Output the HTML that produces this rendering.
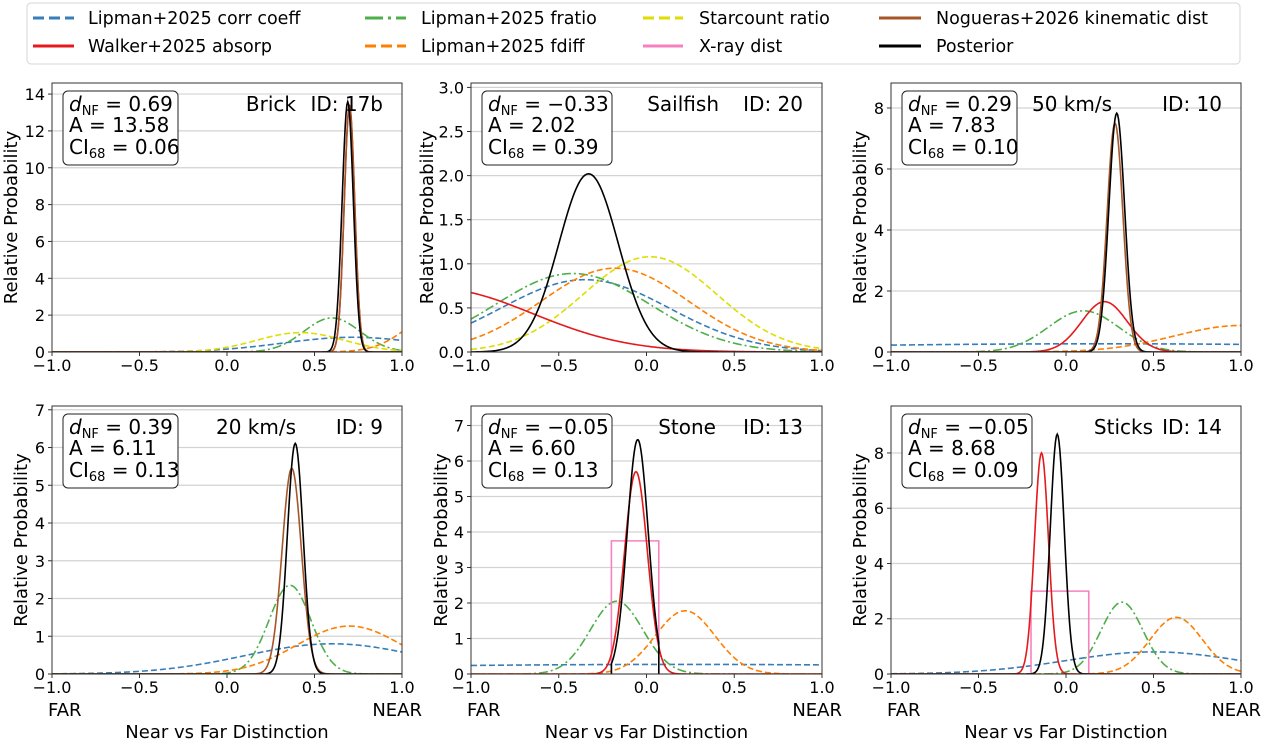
<!DOCTYPE html>
<html><head><meta charset="utf-8">
<style>
html,body{margin:0;padding:0;background:#fff;}
svg{display:block;font-family:"DejaVu Sans","Liberation Sans",sans-serif;}
</style></head>
<body>
<svg id="fig" width="1265" height="745" viewBox="0 0 1265 745" xmlns="http://www.w3.org/2000/svg">
<g id="legend">
  <rect x="27" y="3" width="1213" height="61" rx="4" fill="#fff" stroke="#d4d4d4" stroke-width="1"/>
  <g><line x1="33" y1="18" x2="74" y2="18" stroke="#377eb8" stroke-width="3" stroke-dasharray="11,5"/><text x="88" y="24" font-size="17.5">Lipman+2025 corr coeff</text></g>
  <g><line x1="33" y1="46" x2="74" y2="46" stroke="#e41a1c" stroke-width="3"/><text x="88" y="52" font-size="17.5">Walker+2025 absorp</text></g>
  <g><line x1="365" y1="18" x2="406" y2="18" stroke="#4daf4a" stroke-width="3" stroke-dasharray="18,5,3,5"/><text x="421" y="24" font-size="17.5">Lipman+2025 fratio</text></g>
  <g><line x1="365" y1="46" x2="406" y2="46" stroke="#ff7f00" stroke-width="3" stroke-dasharray="11,5"/><text x="421" y="52" font-size="17.5">Lipman+2025 fdiff</text></g>
  <g><line x1="643" y1="18" x2="683" y2="18" stroke="#dede00" stroke-width="3" stroke-dasharray="11,5"/><text x="699" y="24" font-size="17.5">Starcount ratio</text></g>
  <g><line x1="643" y1="46" x2="683" y2="46" stroke="#f781bf" stroke-width="3"/><text x="699" y="52" font-size="17.5">X-ray dist</text></g>
  <g><line x1="879" y1="18" x2="921" y2="18" stroke="#a65628" stroke-width="3"/><text x="936" y="24" font-size="17.5">Nogueras+2026 kinematic dist</text></g>
  <g><line x1="879" y1="46" x2="921" y2="46" stroke="#000" stroke-width="3"/><text x="936" y="52" font-size="17.5">Posterior</text></g>
</g>
</svg>
<script>
// ---- data (per panel: Brick, Sailfish, 50 km/s, 20 km/s, Stone, Sticks) ----
const panelNames = ["Brick","Sailfish","50 km/s","20 km/s","Stone","Sticks"];
const panelIds = ["ID: 17b","ID: 20","ID: 10","ID: 9","ID: 13","ID: 14"];
const dnfText = ["0.69","\u22120.33","0.29","0.39","\u22120.05","\u22120.05"];
const ampText = ["13.58","2.02","7.83","6.11","6.60","8.68"];
const ciText = ["0.06","0.39","0.10","0.13","0.13","0.09"];
const yMax = [14.6,3.05,8.82,7.1,7.55,9.7];
const yTickStep = [2,0.5,2,1,1,2];
const yTickTop = [14,3,8,7,7,8];
// gaussian params [peak, mean, sigma]; null = absent
const corrPeak = [0.8,0.82,0.27,0.8,0.27,0.8];
const corrMean = [0.72,-0.35,0.2,0.6,0.2,0.5];
const corrSigma = [0.4,0.48,2.0,0.5,2.5,0.5];
const fratioPeak = [1.85,0.89,1.35,2.35,2.05,2.6];
const fratioMean = [0.6,-0.42,0.1,0.36,-0.17,0.32];
const fratioSigma = [0.16,0.44,0.2,0.12,0.15,0.12];
const starPeak = [1.05,1.08,null,null,null,null];
const starMean = [0.42,0.02,0,0,0,0];
const starSigma = [0.25,0.38,1,1,1,1];
const fdiffPeak = [2.4,0.95,0.87,1.27,1.78,2.05];
const fdiffMean = [1.25,-0.18,1.0,0.7,0.22,0.63];
const fdiffSigma = [0.2,0.42,0.38,0.3,0.17,0.15];
const absorpPeak = [13.4,0.72,1.65,null,5.7,8.0];
const absorpMean = [0.70,-1.2,0.22,0,-0.06,-0.14];
const absorpSigma = [0.03,0.55,0.13,1,0.065,0.04];
const kinPeak = [13.3,null,7.5,5.45,null,null];
const kinMean = [0.70,0,0.28,0.37,0,0];
const kinSigma = [0.03,1,0.045,0.055,1,1];
const xrayLo = [null,null,null,null,-0.2,-0.2];
const xrayHi = [null,null,null,null,0.07,0.13];
const xrayHeight = [null,null,null,null,3.75,3.0];
const postPeak = [13.58,2.02,7.83,6.11,6.6,8.68];
const postMean = [0.69,-0.33,0.29,0.39,-0.05,-0.05];
const postSigma = [0.032,0.17,0.045,0.045,0.06,0.04];
const postLo = [-1,-1,-1,-1,-0.2,-1];
const postHi = [1,1,1,1,0.07,1];
const xTicks = [-1.0,-0.5,0.0,0.5,1.0];
const xTickLabels = ["\u22121.0","\u22120.5","0.0","0.5","1.0"];

const NS = "http://www.w3.org/2000/svg";
const svg = document.getElementById('fig');
function mk(tag, attrs, parent){const e=document.createElementNS(NS,tag);for(const k in attrs)e.setAttribute(k,attrs[k]);(parent||svg).appendChild(e);return e;}

const colL=[52,471,891], colR=[402,822,1241];
const rowT=[83,406], rowB=[352,674];
const yLabX=[[10,426,859],[20,440,859]];
const nameEnd=[296,719,1112,296,716,1153];
const boxW=[115,130,115,115,130,130];

for(let p=0;p<6;p++){
  const r=Math.floor(p/3), c=p%3;
  const L=colL[c], R=colR[c], T=rowT[r], B=rowB[r];
  const xs=v=>L+(v+1)/2*(R-L);
  const ys=v=>B-v/yMax[p]*(B-T);
  const g=mk('g',{});
  
  
  for(let v=0; v<=yTickTop[p]+1e-9; v+=yTickStep[p]){
    const y=ys(v);
    const gl=mk('line',{x1:L,x2:R,y1:y,y2:y,stroke:'#d3d3d3','stroke-width':1.2},g);
    
    
    mk('line',{x1:L-4,x2:L,y1:y,y2:y,stroke:'#333','stroke-width':1},g);
    const t=mk('text',{x:L-7,y:y+6,'font-size':16,'text-anchor':'end'},g);
    t.textContent = yTickStep[p]<1 ? v.toFixed(1) : String(Math.round(v));
    
    
  }
  xTicks.forEach((v,i)=>{
    const x=xs(v);
    mk('line',{x1:x,x2:x,y1:B,y2:B+4,stroke:'#333','stroke-width':1},g);
    const t=mk('text',{x:x,y:B+19,'font-size':16,'text-anchor':'middle'},g);
    t.textContent=xTickLabels[i];
    
    
  });
  const clipId='clip'+p;
  const cp=mk('clipPath',{id:clipId},g);
  mk('rect',{x:L,y:T,width:R-L,height:B-T},cp);
  const plot=mk('g',{'clip-path':'url(#'+clipId+')'},g);
  function curve(pk,mu,sg,color,dash,name,lo,hi){
    if(pk==null) return;
    const a=(lo==null)?-1:lo, b=(hi==null)?1:hi;
    let d='';
    const N=400;
    if(a>-1) d+='M'+xs(a).toFixed(2)+','+ys(0).toFixed(2);
    for(let i=0;i<=N;i++){
      const x=a+(b-a)*i/N;
      const y=pk*Math.exp(-(x-mu)*(x-mu)/(2*sg*sg));
      d+=(d===''?'M':'L')+xs(x).toFixed(2)+','+ys(y).toFixed(2);
    }
    if(b<1) d+='L'+xs(b).toFixed(2)+','+ys(0).toFixed(2);
    const e=mk('path',{d:d,fill:'none',stroke:color,'stroke-width':1.6},plot);
    if(dash) e.setAttribute('stroke-dasharray',dash);
    
    
  }
  curve(corrPeak[p],corrMean[p],corrSigma[p],'#377eb8','6,3','corr-coeff-curve');
  curve(fratioPeak[p],fratioMean[p],fratioSigma[p],'#4daf4a','9,3,2,3','fratio-curve');
  curve(starPeak[p],starMean[p],starSigma[p],'#dede00','6,3','starcount-curve');
  curve(fdiffPeak[p],fdiffMean[p],fdiffSigma[p],'#ff7f00','6,3','fdiff-curve');
  if(xrayHeight[p]!=null){
    const d='M'+xs(xrayLo[p])+','+ys(0)+'L'+xs(xrayLo[p])+','+ys(xrayHeight[p])+'L'+xs(xrayHi[p])+','+ys(xrayHeight[p])+'L'+xs(xrayHi[p])+','+ys(0);
    const e=mk('path',{d:d,fill:'none',stroke:'#f781bf','stroke-width':1.6},plot);
    
    
  }
  curve(absorpPeak[p],absorpMean[p],absorpSigma[p],'#e41a1c',null,'absorp-curve');
  curve(kinPeak[p],kinMean[p],kinSigma[p],'#a65628',null,'kinematic-curve');
  curve(postPeak[p],postMean[p],postSigma[p],'#000',null,'posterior-curve',postLo[p],postHi[p]);
  const fr=mk('rect',{x:L,y:T,width:R-L,height:B-T,fill:'none',stroke:'#333','stroke-width':1},g);
  
  
  const bx=L+11, by=T+8;
  const ab=mk('rect',{x:bx,y:by,width:boxW[p],height:74,rx:5,fill:'#fff',stroke:'#222','stroke-width':1},g);
  
  
  const t1=mk('text',{x:bx+6,y:by+20,'font-size':20},g);
  t1.innerHTML='<tspan font-style="italic">d</tspan><tspan font-size="13" dy="4">NF</tspan><tspan dy="-4"> = '+dnfText[p]+'</tspan>';
  
  
  const t2=mk('text',{x:bx+6,y:by+41,'font-size':20},g);
  t2.textContent='A = '+ampText[p];
  
  
  const t3=mk('text',{x:bx+6,y:by+63,'font-size':20},g);
  t3.innerHTML='CI<tspan font-size="13" dy="4">68</tspan><tspan dy="-4"> = '+ciText[p]+'</tspan>';
  
  
  const tn=mk('text',{x:nameEnd[p],y:T+28,'font-size':20,'text-anchor':'end'},g);
  tn.textContent=panelNames[p];
  
  
  const ti=mk('text',{x:R-19,y:T+28,'font-size':20,'text-anchor':'end'},g);
  ti.textContent=panelIds[p];
  
  
  const yl=mk('text',{x:0,y:0,'font-size':18,'text-anchor':'middle',transform:'translate('+(yLabX[r][c]+7)+','+((T+B)/2)+') rotate(-90)'},g);
  yl.textContent='Relative Probability';
  
  
  if(r===1){
    const f=mk('text',{x:L-4,y:B+42,'font-size':18},g);
    f.textContent='FAR';
    
    
    const n=mk('text',{x:R+20,y:B+42,'font-size':18,'text-anchor':'end'},g);
    n.textContent='NEAR';
    
    
    const xl=mk('text',{x:(L+R)/2,y:B+64,'font-size':18,'text-anchor':'middle'},g);
    xl.textContent='Near vs Far Distinction';
    
    
  }
}
</script>
</body></html>
